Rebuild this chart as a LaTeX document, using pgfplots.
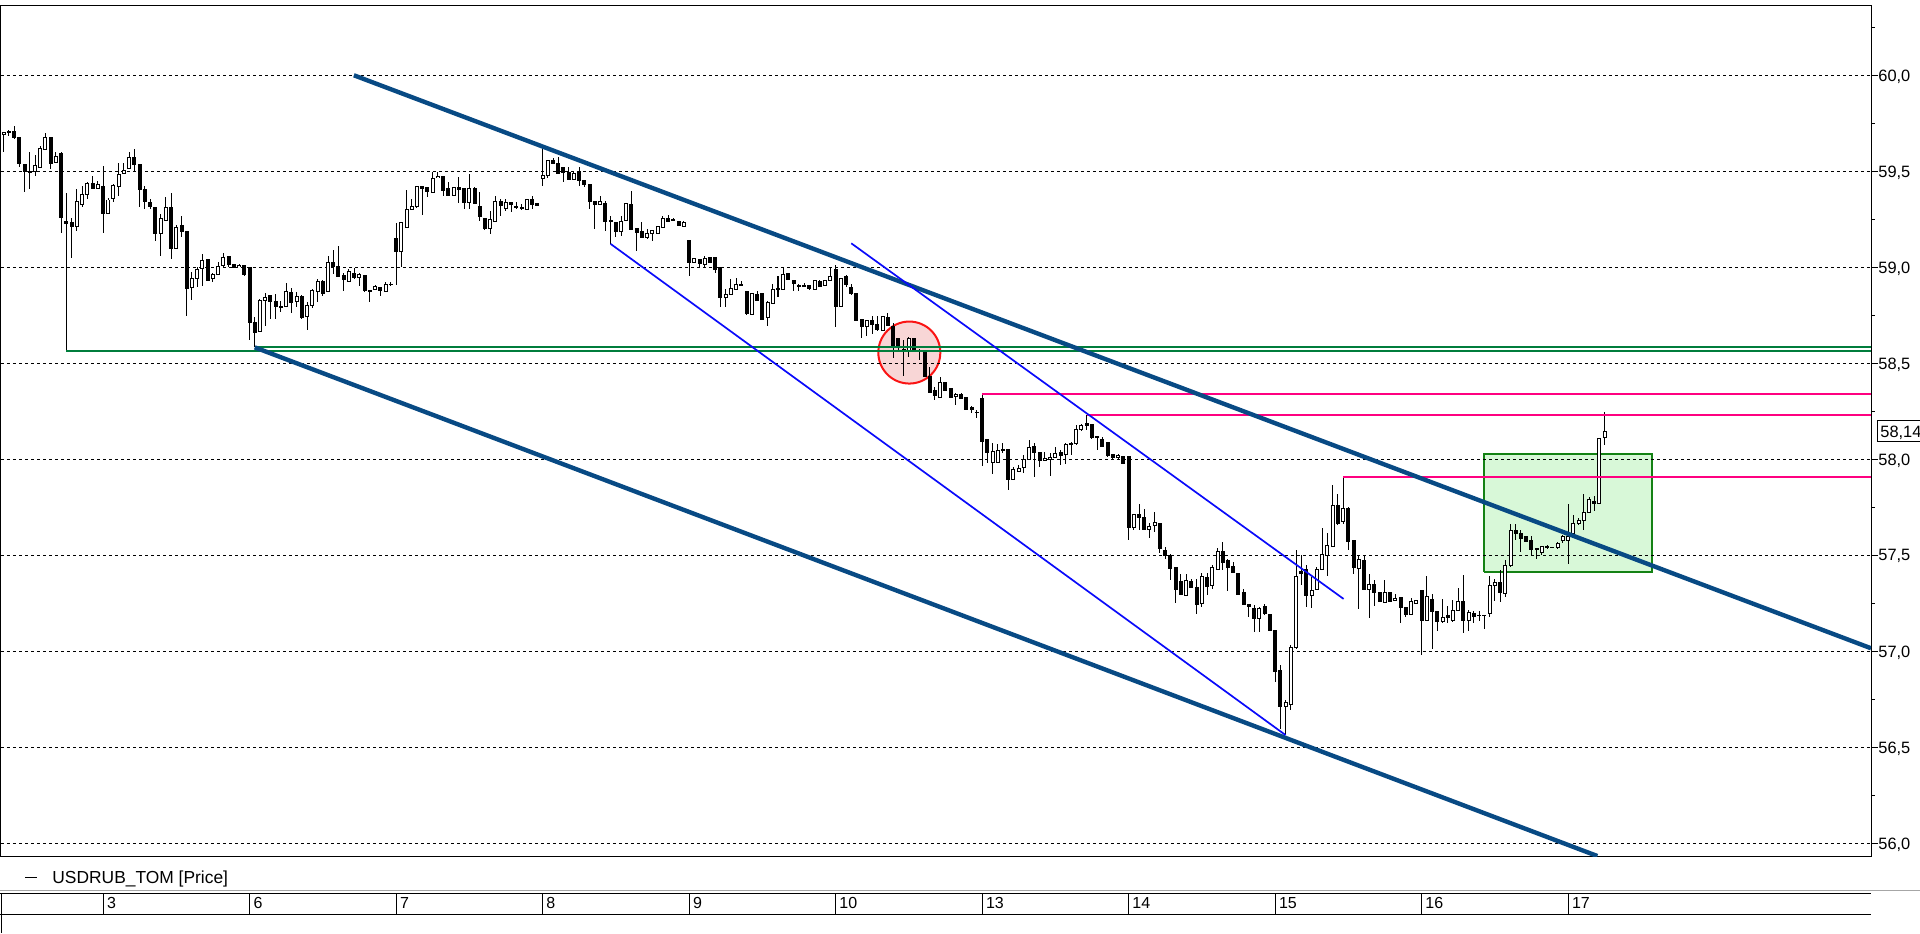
\documentclass[border=0pt]{standalone}
\usepackage{fontspec}
\setmainfont{Liberation Sans}
\usepackage{pgfplots}
\usepackage{pgfplotstable}
\pgfplotsset{compat=1.18}
\definecolor{navy}{RGB}{8,74,132}
\definecolor{thinblue}{RGB}{10,10,250}
\definecolor{magline}{RGB}{255,0,128}
\definecolor{greenline}{RGB}{0,125,60}
\definecolor{rectborder}{RGB}{20,130,20}
\definecolor{rectfill}{RGB}{216,248,216}
\definecolor{circfill}{RGB}{248,214,214}
\definecolor{circborder}{RGB}{250,20,20}

\pgfplotstableread{
i o h l c
-19 59.693 59.707 59.603 59.703
-18 59.705 59.715 59.686 59.707
-17 59.707 59.734 59.669 59.677
-16 59.677 59.677 59.521 59.542
-15 59.535 59.535 59.394 59.500
-14 59.500 59.604 59.408 59.495
-13 59.500 59.585 59.478 59.530
-12 59.521 59.634 59.521 59.620
-11 59.611 59.698 59.611 59.677
-10 59.677 59.677 59.512 59.542
-9 59.547 59.599 59.547 59.578
-8 59.592 59.599 59.181 59.259
-7 59.238 59.387 58.566 59.229
-6 59.234 59.260 59.052 59.212
-5 59.214 59.411 59.191 59.344
-4 59.325 59.425 59.313 59.380
-3 59.380 59.446 59.356 59.438
-2 59.438 59.478 59.408 59.411
-1 59.411 59.450 59.411 59.429
0 59.420 59.528 59.177 59.280
1 59.281 59.365 59.278 59.352
2 59.359 59.434 59.339 59.425
3 59.422 59.542 59.373 59.486
4 59.490 59.547 59.486 59.507
5 59.517 59.603 59.512 59.573
6 59.573 59.617 59.495 59.535
7 59.536 59.536 59.313 59.408
8 59.408 59.425 59.304 59.344
9 59.339 59.356 59.304 59.318
10 59.313 59.313 59.139 59.177
11 59.177 59.278 59.057 59.257
12 59.247 59.365 59.247 59.313
13 59.313 59.387 59.043 59.099
14 59.099 59.220 59.096 59.208
15 59.217 59.269 59.156 59.188
16 59.188 59.188 58.745 58.891
17 58.896 58.977 58.832 58.943
18 58.943 59.000 58.896 58.988
19 58.995 59.073 58.904 59.035
20 59.043 59.043 58.930 58.930
21 58.943 58.971 58.922 58.962
22 58.965 59.026 58.965 59.003
23 59.009 59.078 59.000 59.052
24 59.056 59.061 59.005 59.014
25 59.014 59.014 59.000 59.003
26 59.003 59.018 59.000 59.009
27 59.009 59.012 58.957 58.962
28 59.000 59.000 58.623 58.714
29 58.714 58.740 58.583 58.661
30 58.665 58.835 58.661 58.826
31 58.826 58.865 58.693 58.844
32 58.852 58.856 58.731 58.821
33 58.823 58.861 58.731 58.797
34 58.797 58.826 58.766 58.792
35 58.797 58.918 58.792 58.873
36 58.870 58.896 58.761 58.818
37 58.821 58.870 58.792 58.849
38 58.849 58.856 58.734 58.740
39 58.745 58.821 58.675 58.800
40 58.800 58.887 58.786 58.878
41 58.878 58.939 58.818 58.925
42 58.927 58.936 58.852 58.866
43 58.875 59.061 58.875 59.026
44 59.026 59.090 58.965 59.005
45 59.003 59.113 58.948 58.953
46 58.957 58.971 58.878 58.939
47 58.927 58.991 58.927 58.979
48 58.971 59.000 58.943 58.948
49 58.948 58.971 58.904 58.960
50 58.957 58.960 58.870 58.878
51 58.882 58.882 58.818 58.875
52 58.884 58.908 58.884 58.899
53 58.896 58.896 58.852 58.878
54 58.878 58.922 58.878 58.913
55 58.913 58.922 58.904 58.910
56 59.153 59.234 58.910 59.083
57 59.083 59.234 59.000 59.234
58 59.208 59.403 59.208 59.299
59 59.302 59.356 59.299 59.318
60 59.318 59.422 59.312 59.422
61 59.422 59.422 59.274 59.408
62 59.417 59.417 59.365 59.396
63 59.391 59.495 59.391 59.465
64 59.469 59.495 59.469 59.476
65 59.476 59.476 59.373 59.399
66 59.411 59.443 59.373 59.377
67 59.373 59.417 59.370 59.417
68 59.417 59.472 59.335 59.404
69 59.413 59.413 59.304 59.339
70 59.339 59.486 59.304 59.413
71 59.413 59.417 59.333 59.333
72 59.316 59.391 59.243 59.266
73 59.255 59.255 59.196 59.203
74 59.203 59.295 59.174 59.248
75 59.240 59.373 59.240 59.342
76 59.344 59.356 59.269 59.321
77 59.309 59.356 59.295 59.339
78 59.339 59.339 59.286 59.330
79 59.318 59.339 59.304 59.312
80 59.312 59.330 59.299 59.309
81 59.300 59.352 59.300 59.352
82 59.352 59.373 59.302 59.330
83 59.335 59.335 59.323 59.323
84 59.465 59.616 59.422 59.477
85 59.477 59.559 59.465 59.559
86 59.559 59.569 59.538 59.542
87 59.542 59.573 59.486 59.490
88 59.521 59.521 59.443 59.495
89 59.495 59.521 59.457 59.457
90 59.457 59.498 59.457 59.490
91 59.498 59.521 59.425 59.451
92 59.451 59.451 59.417 59.434
93 59.434 59.434 59.304 59.342
94 59.342 59.347 59.200 59.330
95 59.325 59.373 59.325 59.344
96 59.333 59.347 59.191 59.240
97 59.243 59.269 59.122 59.238
98 59.234 59.234 59.156 59.186
99 59.186 59.269 59.165 59.240
100 59.243 59.333 59.240 59.333
101 59.330 59.399 59.200 59.200
102 59.203 59.203 59.087 59.182
103 59.188 59.234 59.156 59.156
104 59.156 59.200 59.148 59.177
105 59.177 59.191 59.139 59.191
106 59.179 59.214 59.179 59.214
107 59.208 59.269 59.208 59.257
108 59.257 59.273 59.240 59.240
109 59.252 59.257 59.240 59.247
110 59.240 59.240 59.217 59.217
111 59.214 59.243 59.214 59.234
112 59.142 59.142 58.957 59.026
113 59.026 59.052 59.023 59.047
114 59.042 59.042 59.000 59.021
115 59.014 59.061 59.003 59.049
116 59.052 59.056 59.026 59.026
117 59.049 59.049 58.974 58.991
118 59.000 59.000 58.795 58.844
119 58.844 58.887 58.795 58.861
120 58.861 58.939 58.858 58.892
121 58.887 58.943 58.884 58.913
122 58.913 58.931 58.901 58.904
123 58.873 58.878 58.753 58.757
124 58.757 58.870 58.753 58.865
125 58.861 58.878 58.826 58.826
126 58.865 58.865 58.731 58.731
127 58.736 58.826 58.696 58.818
128 58.813 58.913 58.806 58.887
129 58.892 58.957 58.847 58.882
130 58.887 59.000 58.882 58.962
131 58.969 58.969 58.936 58.936
132 58.934 58.934 58.878 58.917
133 58.908 58.913 58.878 58.901
134 58.905 58.920 58.896 58.903
135 58.905 58.905 58.882 58.891
136 58.887 58.931 58.887 58.931
137 58.925 58.934 58.899 58.899
138 58.903 58.929 58.903 58.929
139 58.934 59.000 58.934 58.951
140 58.990 59.010 58.691 58.795
141 58.795 58.943 58.792 58.943
142 58.951 58.960 58.899 58.908
143 58.899 58.917 58.856 58.865
144 58.865 58.865 58.722 58.722
145 58.731 58.731 58.635 58.691
146 58.691 58.722 58.644 58.722
147 58.726 58.748 58.656 58.705
148 58.705 58.748 58.668 58.677
149 58.670 58.743 58.670 58.743
150 58.740 58.764 58.694 58.700
151 58.694 58.708 58.526 58.587
152 58.630 58.630 58.561 58.587
153 58.573 58.622 58.434 58.566
154 58.561 58.639 58.531 58.630
155 58.630 58.630 58.561 58.561
156 58.569 58.573 58.517 58.564
157 58.556 58.569 58.431 58.431
158 58.434 58.483 58.347 58.347
159 58.358 58.379 58.309 58.335
160 58.323 58.431 58.323 58.399
161 58.399 58.399 58.358 58.358
162 58.370 58.370 58.323 58.323
163 58.326 58.347 58.283 58.340
164 58.339 58.344 58.313 58.318
165 58.323 58.323 58.257 58.260
166 58.269 58.278 58.243 58.260
167 58.247 58.257 58.214 58.243
168 58.318 58.339 57.967 58.092
169 58.104 58.104 57.983 58.035
170 57.983 58.087 57.927 58.040
171 57.983 58.083 57.983 58.049
172 58.049 58.087 58.035 58.052
173 58.052 58.052 57.840 57.896
174 57.896 57.962 57.896 57.948
175 57.939 57.971 57.939 57.953
176 57.958 58.023 57.931 58.000
177 58.002 58.104 58.002 58.061
178 58.069 58.083 57.910 58.035
179 58.035 58.035 57.962 57.993
180 57.997 58.040 57.997 58.005
181 58.000 58.035 57.913 58.010
182 58.010 58.066 58.010 58.031
183 58.035 58.049 57.969 58.021
184 58.023 58.087 57.976 58.075
185 58.083 58.092 58.023 58.080
186 58.083 58.179 58.075 58.153
187 58.156 58.184 58.146 58.175
188 58.188 58.231 58.156 58.179
189 58.184 58.184 58.104 58.115
190 58.118 58.118 58.049 58.113
191 58.104 58.118 58.069 58.069
192 58.089 58.089 58.014 58.019
193 58.028 58.031 58.005 58.010
194 58.010 58.031 58.005 58.023
195 58.017 58.017 57.979 57.979
196 58.014 58.014 57.583 57.644
197 57.644 57.714 57.632 57.714
198 57.714 57.766 57.635 57.698
199 57.698 57.740 57.632 57.635
200 57.635 57.670 57.589 57.653
201 57.658 57.727 57.623 57.670
202 57.667 57.667 57.514 57.536
203 57.524 57.542 57.484 57.502
204 57.502 57.507 57.375 57.432
205 57.436 57.436 57.253 57.323
206 57.363 57.403 57.299 57.299
207 57.294 57.403 57.288 57.372
208 57.363 57.377 57.328 57.333
209 57.333 57.380 57.198 57.245
210 57.250 57.406 57.229 57.392
211 57.385 57.406 57.293 57.337
212 57.342 57.450 57.328 57.437
213 57.427 57.536 57.424 57.519
214 57.519 57.571 57.424 57.462
215 57.476 57.479 57.316 57.437
216 57.444 57.467 57.406 57.410
217 57.406 57.406 57.293 57.299
218 57.306 57.323 57.240 57.243
219 57.247 57.247 57.181 57.233
220 57.224 57.241 57.102 57.172
221 57.172 57.233 57.102 57.224
222 57.233 57.245 57.189 57.198
223 57.193 57.193 57.108 57.108
224 57.108 57.108 56.842 56.899
225 56.903 56.932 56.599 56.715
226 56.712 56.747 56.564 56.734
227 56.724 57.033 56.694 57.021
228 57.021 57.531 57.016 57.392
229 57.415 57.502 57.345 57.406
230 57.427 57.450 57.233 57.293
231 57.293 57.389 57.224 57.319
232 57.323 57.441 57.319 57.427
233 57.427 57.644 57.424 57.507
234 57.497 57.615 57.392 57.549
235 57.549 57.866 57.549 57.762
236 57.757 57.819 57.658 57.667
237 57.675 57.910 57.663 57.745
238 57.745 57.750 57.528 57.571
239 57.580 57.580 57.403 57.437
240 57.432 57.505 57.219 57.476
241 57.472 57.505 57.323 57.323
242 57.323 57.406 57.177 57.351
243 57.351 57.372 57.236 57.306
244 57.306 57.306 57.259 57.262
245 57.255 57.375 57.255 57.307
246 57.306 57.311 57.255 57.262
247 57.266 57.299 57.264 57.276
248 57.281 57.281 57.146 57.229
249 57.229 57.233 57.181 57.193
250 57.193 57.276 57.193 57.262
251 57.250 57.267 57.247 57.264
252 57.319 57.319 56.984 57.160
253 57.160 57.392 57.160 57.285
254 57.271 57.299 57.016 57.210
255 57.210 57.210 57.106 57.155
256 57.155 57.276 57.149 57.177
257 57.189 57.236 57.149 57.177
258 57.163 57.267 57.155 57.215
259 57.212 57.328 57.212 57.262
260 57.262 57.398 57.097 57.160
261 57.160 57.215 57.106 57.205
262 57.201 57.210 57.149 57.184
263 57.190 57.210 57.158 57.189
264 57.189 57.189 57.120 57.186
265 57.198 57.394 57.181 57.345
266 57.345 57.380 57.264 57.358
267 57.358 57.424 57.259 57.306
268 57.302 57.476 57.285 57.446
269 57.446 57.663 57.441 57.632
270 57.632 57.663 57.580 57.615
271 57.615 57.635 57.519 57.589
272 57.601 57.601 57.571 57.575
273 57.576 57.601 57.497 57.531
274 57.536 57.536 57.484 57.528
275 57.514 57.550 57.502 57.545
276 57.549 57.554 57.536 57.540
277 57.542 57.545 57.538 57.542
278 57.542 57.571 57.536 57.562
279 57.580 57.606 57.562 57.601
280 57.580 57.766 57.458 57.601
281 57.615 57.710 57.609 57.667
282 57.667 57.696 57.658 57.684
283 57.681 57.819 57.632 57.724
284 57.724 57.806 57.719 57.792
285 57.783 57.811 57.731 57.774
286 57.771 58.109 57.771 58.109
287 58.115 58.245 58.075 58.144
}\candles

\begin{document}
\begin{tikzpicture}
\path[use as bounding box] (0,0) rectangle (960pt,-466.5pt);
\begin{axis}[
  at={(0.5pt,-2.5pt)}, anchor=north west,
  scale only axis, width=935pt, height=425.5pt,
  xmin=-19.5, xmax=337.9, ymin=55.934, ymax=60.366,
  xtick=\empty,
  ytick={56,56.5,57,57.5,58,58.5,59,59.5,60},
  minor ytick={56.25,56.75,57.25,57.75,58.25,58.75,59.25,59.75,60.25},
  ytick pos=right, yticklabel pos=right,
  tick align=outside, major tick length=3.5pt, minor tick length=1.75pt,
  tick style={black, line width=0.5pt},
  axis line style={black, line width=0.5pt},
  scaled y ticks=false,
  yticklabel style={font=\fontsize{8.2}{9}\selectfont, anchor=west, inner sep=0pt, text depth=0pt,
    /pgf/number format/fixed, /pgf/number format/fixed zerofill,
    /pgf/number format/precision=1, /pgf/number format/use comma,
    /pgf/number format/assume math mode=true},
]
% highlight rectangle and circle (background)
\addplot[fill=rectfill, draw=rectborder, line width=1pt]
  coordinates {(264.0,57.415) (296.1,57.415) (296.1,58.028) (264.0,58.028) (264.0,57.415)};
\draw[draw=circborder, fill=circfill, line width=1pt] (axis cs:154.1,58.556) circle[radius=15.5pt];
% grid lines
\pgfplotsinvokeforeach{56,56.5,57,57.5,58,58.5,59,59.5,60}{
  \addplot[black, line width=0.5pt, dash pattern=on 1.5pt off 1.5pt] coordinates {(-19.5,#1) (337.9,#1)};
}
% candles: wicks
\addplot[draw=none, mark=none, error bars/.cd, y dir=both, y explicit, error mark=none,
  error bar style={draw=black, solid, line width=0.5pt}]
  table[x=i, y expr={(\thisrow{h}+\thisrow{l})/2}, y error expr={(\thisrow{h}-\thisrow{l})/2}] {\candles};
% candles: bodies
\addplot[draw=none, mark=none, error bars/.cd, y dir=both, y explicit, error mark=none,
  error bar style={draw=black, solid, line width=2pt}]
  table[x=i, y expr={(\thisrow{o}+\thisrow{c})/2}, y error expr={abs(\thisrow{c}-\thisrow{o})/2+0.0026}] {\candles};
% candles: hollow interiors of rising candles
\addplot[draw=none, mark=none, restrict expr to domain={\thisrow{c}-\thisrow{o}}{0.006:10},
  error bars/.cd, y dir=both, y explicit, error mark=none,
  error bar style={draw=white, solid, line width=1pt}]
  table[x=i, y expr={(\thisrow{o}+\thisrow{c})/2}, y error expr={(\thisrow{c}-\thisrow{o})/2-0.0026}] {\candles};
% horizontal levels
\addplot[greenline, line width=0.9pt] coordinates {(-7,58.566) (337.9,58.566)};
\addplot[greenline, line width=0.9pt] coordinates {(29,58.583) (337.9,58.583)};
\addplot[magline, line width=0.9pt] coordinates {(168,58.340) (337.9,58.340)};
\addplot[magline, line width=0.9pt] coordinates {(188,58.231) (337.9,58.231)};
\addplot[magline, line width=0.9pt] coordinates {(237,57.910) (337.9,57.910)};
% channel
\addplot[navy, line width=2.2pt] coordinates {(47.95,60.0) (337.9,57.016)};
\addplot[navy, line width=2.2pt] coordinates {(29,58.583) (285.6,55.934)};
% thin trend lines
\addplot[thinblue, line width=0.85pt] coordinates {(97,59.122) (226,56.564)};
\addplot[thinblue, line width=0.85pt] coordinates {(143.0,59.125) (237.1,57.273)};
\end{axis}
% last price box
\draw[black, line width=0.5pt] (938.5pt,-210.35pt) rectangle (980pt,-220.65pt);
\node[anchor=base west, inner sep=0pt, font=\fontsize{8.2}{9}\selectfont] at (940pt,-218.5pt) {58,14};
% legend
\draw[black, line width=0.5pt] (12.5pt,-438.6pt) -- (18.4pt,-438.6pt);
\node[anchor=base west, inner sep=0pt, font=\fontsize{8.7}{10}\selectfont] at (26pt,-441.65pt) {USDRUB\_TOM [Price]};
% date strip
\draw[black!35, line width=0.5pt] (0pt,-445.25pt) -- (960pt,-445.25pt);
\draw[black, line width=0.5pt] (0pt,-446.5pt) -- (935.5pt,-446.5pt);
\draw[black, line width=0.5pt] (0pt,-457pt) -- (935.5pt,-457pt);
\draw[black, line width=0.5pt] (0.5pt,-446.5pt) -- (0.5pt,-466.5pt);
\foreach \x/\d in {51.5/3, 124.75/6, 198.0/7, 271.24/8, 344.5/9, 417.74/10, 491.0/13, 564.24/14, 637.5/15, 710.73/16, 784.0/17} {
  \draw[black, line width=0.5pt] (\x pt,-446.5pt) -- (\x pt,-457pt);
  \node[anchor=base west, inner sep=0pt, font=\fontsize{8}{9}\selectfont] at (\x pt+1.8pt,-454.2pt) {\d};
}
\end{tikzpicture}
\end{document}
